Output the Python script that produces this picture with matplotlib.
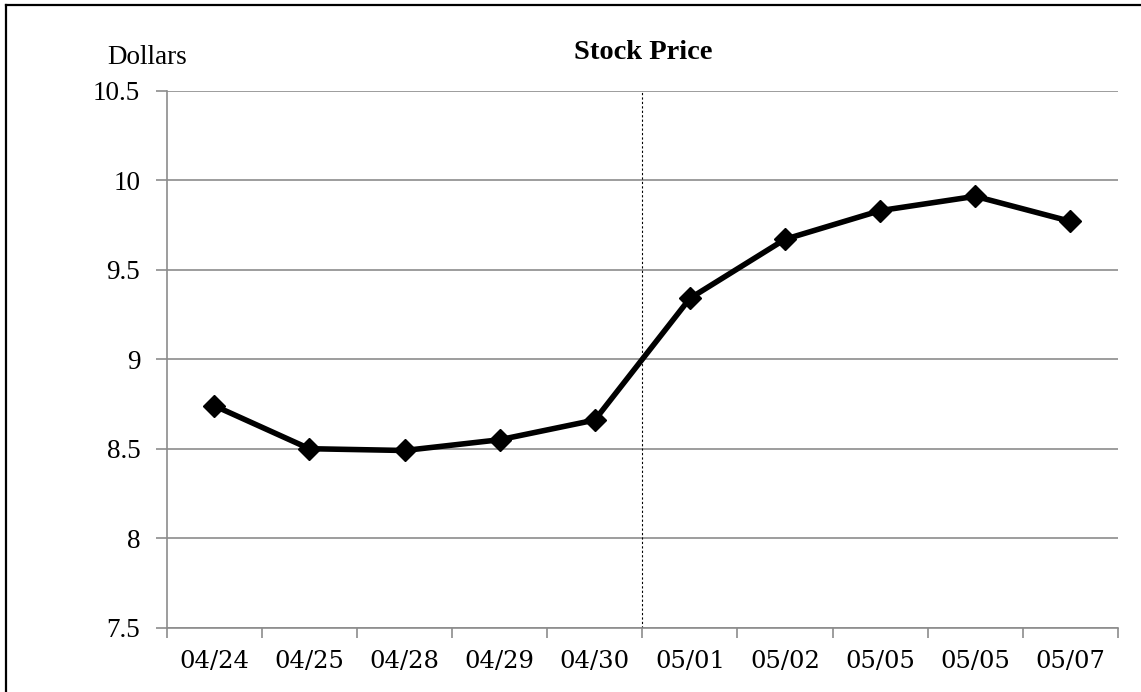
import numpy as np
import matplotlib
matplotlib.use("Agg")
import matplotlib.pyplot as plt
from matplotlib.lines import Line2D

dates = ["04/24", "04/25", "04/28", "04/29", "04/30",
         "05/01", "05/02", "05/05", "05/05", "05/07"]
prices = [8.74, 8.50, 8.49, 8.55, 8.66, 9.34, 9.67, 9.83, 9.91, 9.77]
yticks = [7.5, 8, 8.5, 9, 9.5, 10, 10.5]
ytick_labels = ["7.5", "8", "8.5", "9", "9.5", "10", "10.5"]
split_at = 4.5  # between 04/30 and 05/01

W, H = 1141, 692
fig = plt.figure(figsize=(W / 100, H / 100), dpi=100)
ax = fig.add_axes([166.7 / W, 1 - 627.7 / H, (1118 - 166.7) / W, (627.7 - 90.7) / H])

grid_col = "#8c8c8c"
x = np.arange(len(dates))

for y in yticks:
    ax.axhline(y, color=grid_col, lw=1.2, zorder=1)
ax.axvline(split_at, color="black", lw=0.8, ls=(0, (2, 2)), zorder=2)

ax.plot(x, prices, color="black", lw=4, marker="D", markersize=11.5,
        zorder=3, solid_joinstyle="miter")

ax.set_xlim(-0.5, len(dates) - 0.5)
ax.set_ylim(7.5, 10.5)

# category ticks sit on the boundaries, labels centred between them
ax.set_xticks(np.arange(-0.5, len(dates)))
ax.set_xticklabels([])
ax.set_xticks(x, minor=True)
ax.set_xticklabels(dates, minor=True, fontfamily="DejaVu Serif", fontsize=17.5)
ax.tick_params(axis="x", which="major", length=7, width=1.2, color=grid_col)
ax.tick_params(axis="x", which="minor", length=0, pad=16)

ax.set_yticks(yticks)
ax.set_yticklabels(ytick_labels, fontfamily="Liberation Serif", fontsize=19.5)
ax.tick_params(axis="y", length=8, width=1.2, color=grid_col, pad=11)

for s in ["top", "right"]:
    ax.spines[s].set_visible(False)
for s in ["left", "bottom"]:
    ax.spines[s].set_color(grid_col)
    ax.spines[s].set_linewidth(1.2)

fig.text(107.7 / W, 1 - 64 / H, "Dollars", fontfamily="Liberation Serif",
         fontsize=19.5, ha="left", va="baseline")
fig.text(643.5 / W, 1 - 59.3 / H, "Stock Price", fontfamily="Liberation Serif",
         fontsize=20.5, fontweight="bold", ha="center", va="baseline")

# outer frame (only top and left edges fall inside the picture)
fig.add_artist(Line2D([5.5 / W, 5.5 / W], [0, 1 - 4.5 / H], color="black", lw=1.6,
                      transform=fig.transFigure))
fig.add_artist(Line2D([5.5 / W, 1], [1 - 4.5 / H, 1 - 4.5 / H], color="black", lw=1.6,
                      transform=fig.transFigure))

fig.savefig("out.png", dpi=100)
